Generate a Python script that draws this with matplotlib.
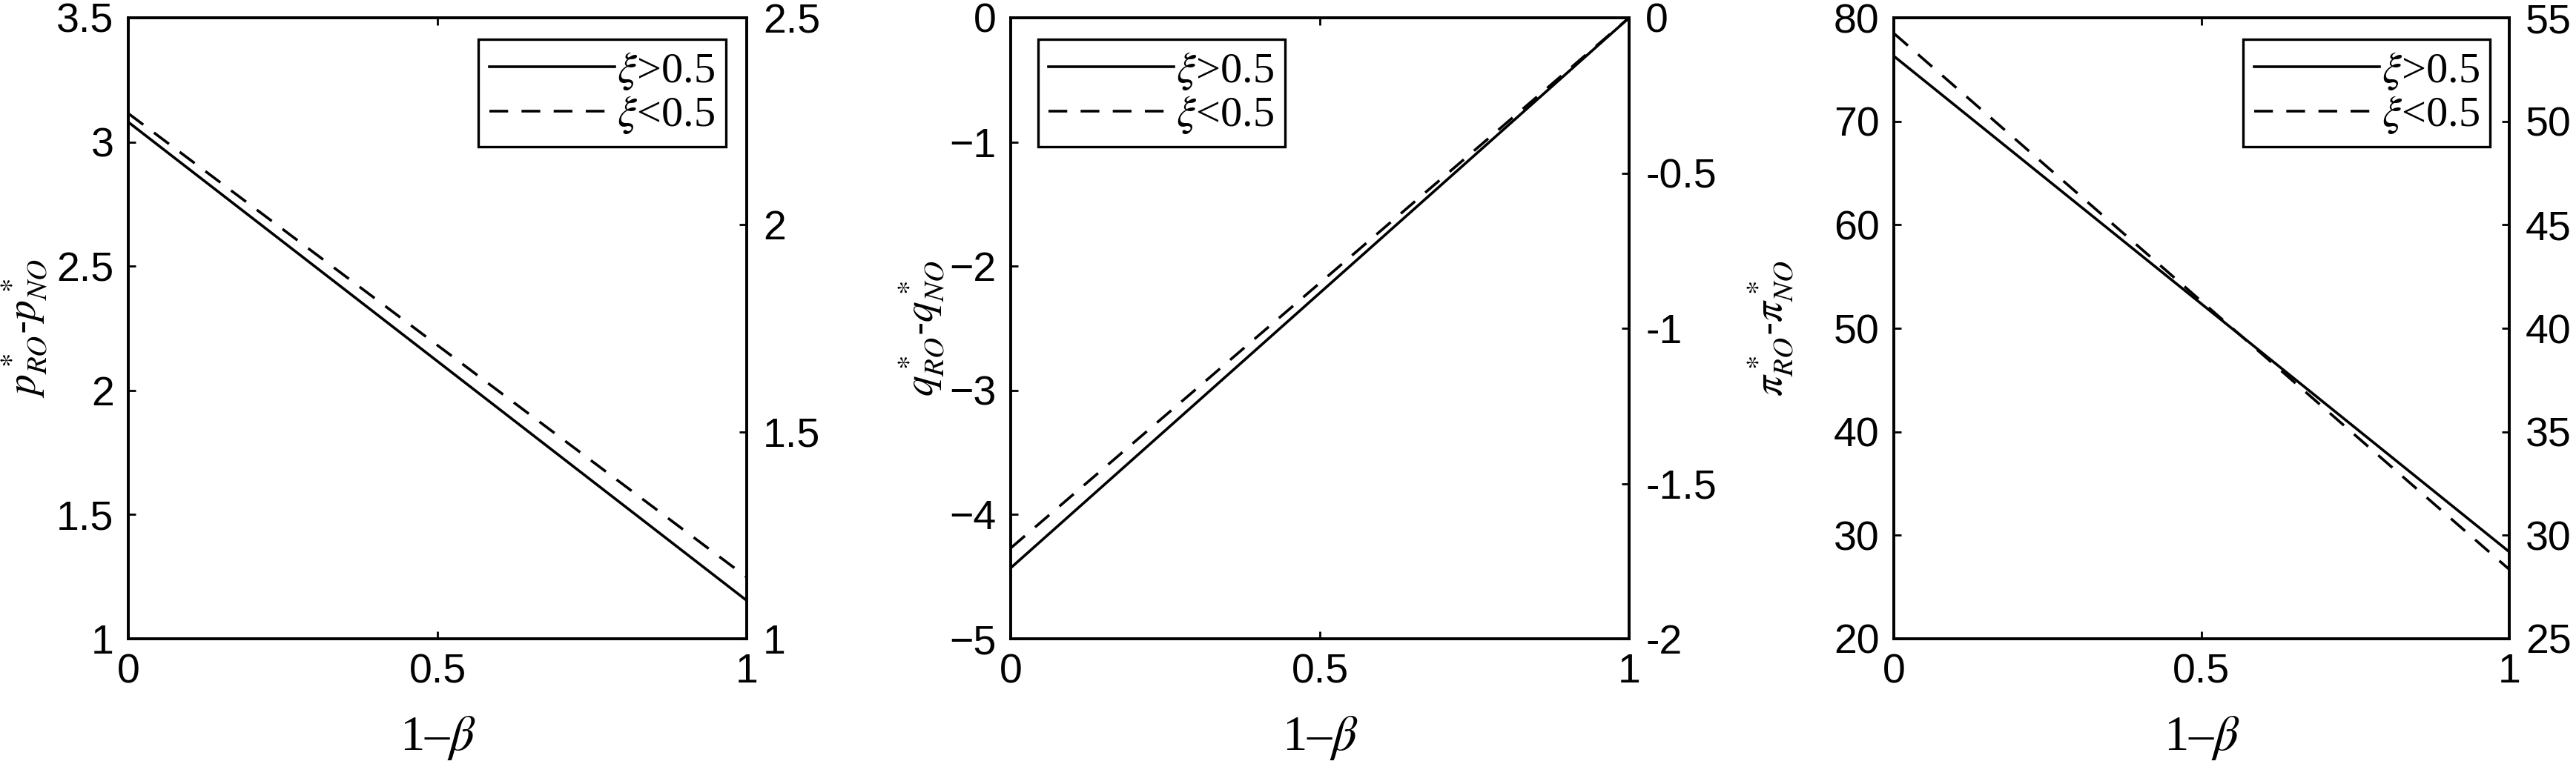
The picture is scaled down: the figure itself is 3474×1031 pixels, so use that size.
import matplotlib.pyplot as plt
from matplotlib.ticker import FixedLocator, FixedFormatter, FuncFormatter

plt.rcParams['font.family'] = ['Liberation Sans', 'DejaVu Sans']
plt.rcParams['mathtext.fontset'] = 'stix'

# x values (1 - beta)
x = [0.0, 1.0]

# panel 1: price difference
p_hi = [3.08, 1.154]
p_lo = [3.115, 1.248]
p_left_ticks = [1, 1.5, 2, 2.5, 3, 3.5]
p_right_ticks = [1, 1.5, 2, 2.5]
p_right_labels = ['1', '1.5', '2', '2.5']

# panel 2: quantity difference
q_hi = [-4.43, 0.0]
q_lo = [-4.27, 0.0]
q_left_ticks = [-5, -4, -3, -2, -1, 0]
q_right_ticks = [-2, -1.5, -1, -0.5, 0]
q_right_labels = ['-2', '-1.5', '-1', '-0.5', '0']

# panel 3: profit difference
pi_hi = [76.3, 28.4]
pi_lo = [78.5, 26.7]
pi_left_ticks = [20, 30, 40, 50, 60, 70, 80]
pi_right_ticks = [25, 30, 35, 40, 45, 50, 55]
pi_right_labels = ['25', '30', '35', '40', '45', '50', '55']

labels = [r'$\xi$>0.5', r'$\xi$<0.5']

W, H = 3474, 1031
fig = plt.figure(figsize=(W / 100, H / 100), dpi=100)

panels = [
    dict(left=173, right=1007, hi=p_hi, lo=p_lo, lt=p_left_ticks, rt=p_right_ticks,
         rl=p_right_labels, ylab=r'$p^*_{RO}$-$p^*_{NO}$', legloc='upper right',
         legx=0.966, labx=-0.128),
    dict(left=1363, right=2197, hi=q_hi, lo=q_lo, lt=q_left_ticks, rt=q_right_ticks,
         rl=q_right_labels, ylab=r'$q^*_{RO}$-$q^*_{NO}$', legloc='upper left',
         legx=0.044, labx=-0.104),
    dict(left=2554, right=3384, hi=pi_hi, lo=pi_lo, lt=pi_left_ticks, rt=pi_right_ticks,
         rl=pi_right_labels, ylab=r'$\pi^*_{RO}$-$\pi^*_{NO}$', legloc='upper right',
         legx=0.969, labx=-0.16),
]

fmt = FuncFormatter(lambda v, pos: f'{v:g}'.replace('-', '\u2212'))

top, bottom = 24, 862
for pn in panels:
    ax = fig.add_axes([pn['left'] / W, 1 - bottom / H,
                       (pn['right'] - pn['left']) / W, (bottom - top) / H])
    ax.plot(x, pn['hi'], color='black', lw=2.6, label=labels[0])
    ax.plot(x, pn['lo'], color='black', lw=2.6, dashes=(7, 5), label=labels[1])
    ax.set_xlim(0, 1)
    ax.set_ylim(pn['lt'][0], pn['lt'][-1])
    ax.set_xticks([0, 0.5, 1])
    ax.set_xticklabels(['0', '0.5', '1'])
    ax.set_yticks(pn['lt'])
    ax.yaxis.set_major_formatter(fmt)
    ax.tick_params(direction='in', length=7, width=2, labelsize=40, pad=14,
                   top=True, right=False)
    for s in ax.spines.values():
        s.set_linewidth(2.6)
    ax.set_xlabel('1–' + r'$\beta$', fontsize=48, family='Liberation Serif')
    ax.xaxis.set_label_coords(0.5, -0.122)
    ax.set_ylabel(pn['ylab'], fontsize=40)
    ax.yaxis.set_label_coords(pn['labx'], 0.5)

    ax2 = ax.twinx()
    ax2.set_ylim(pn['rt'][0], pn['rt'][-1])
    ax2.yaxis.set_major_locator(FixedLocator(pn['rt']))
    ax2.yaxis.set_major_formatter(FixedFormatter(pn['rl']))
    ax2.tick_params(direction='in', length=7, width=2, labelsize=40, pad=16)
    for s in ax2.spines.values():
        s.set_linewidth(2.6)

    leg = ax2.legend(*ax.get_legend_handles_labels(), loc=pn['legloc'],
                     bbox_to_anchor=(pn['legx'], 0.965), fancybox=False, framealpha=1,
                     edgecolor='black', prop={'family': 'Liberation Serif', 'size': 42},
                     handlelength=2.9, handletextpad=0.05, labelspacing=0.06,
                     borderpad=0.25, borderaxespad=0)
    leg.get_frame().set_linewidth(2.4)

fig.savefig('out.png', dpi=100)
